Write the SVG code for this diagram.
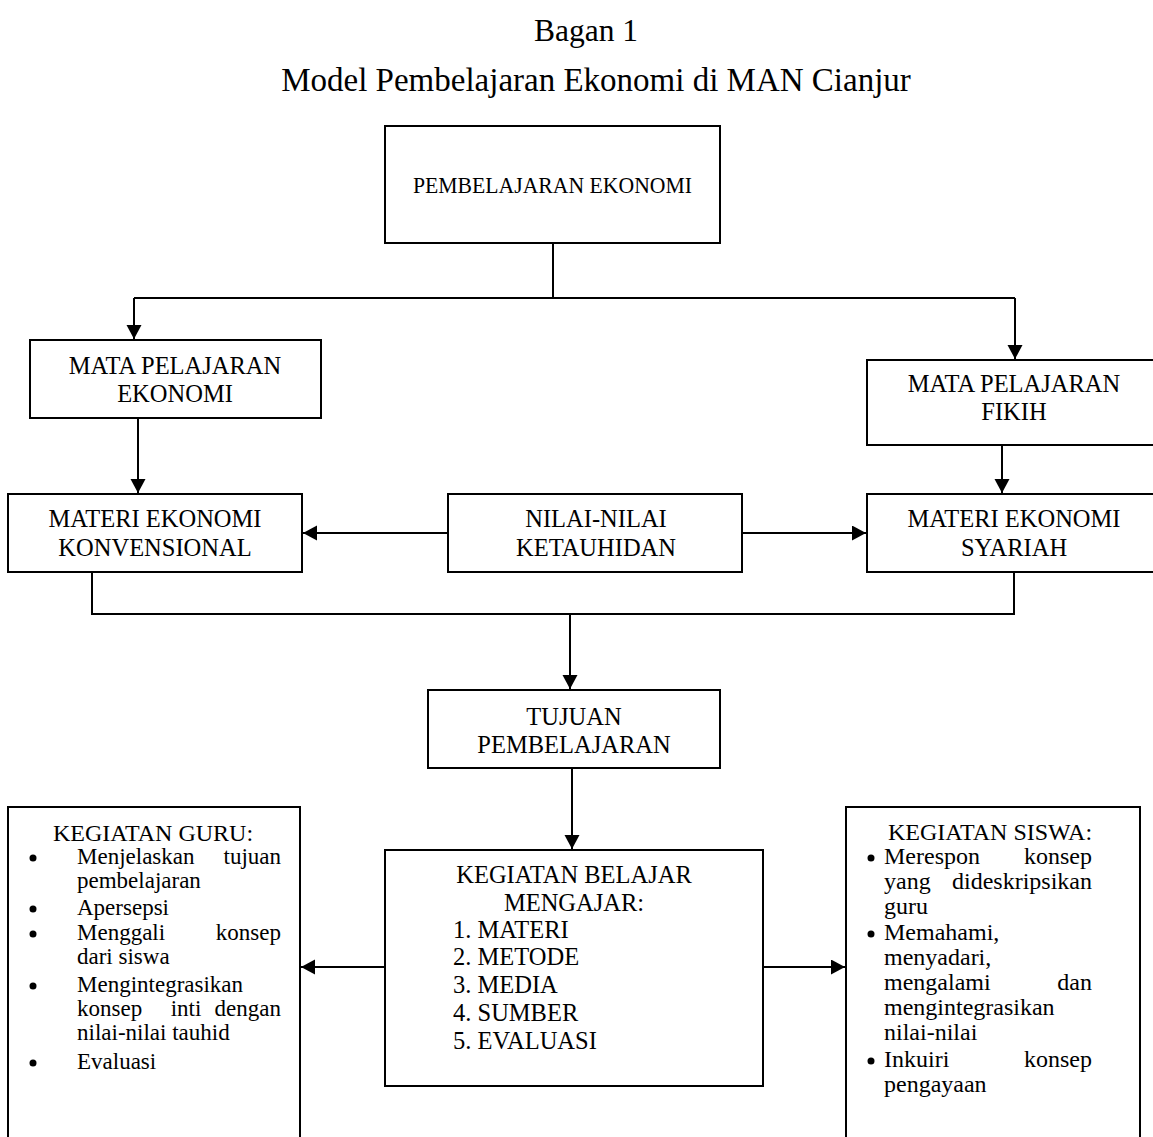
<svg xmlns="http://www.w3.org/2000/svg" width="1153" height="1137" viewBox="0 0 1153 1137">
<style>
text{font-family:"Liberation Serif","Times New Roman",serif;fill:#000;font-size:24.5px}
.c{text-anchor:middle}
.e{text-anchor:end}
.g{font-size:23px}
.s{font-size:24px}
.box{fill:#fff;stroke:#000;stroke-width:2}
.ln{fill:none;stroke:#000;stroke-width:2}
</style>
<defs>
<marker id="ah" markerUnits="userSpaceOnUse" markerWidth="16" markerHeight="16" refX="14" refY="7.5" orient="auto">
<path d="M0,0 L14,7.5 L0,15 z" fill="#000"/>
</marker>
</defs>
<rect width="1153" height="1137" fill="#fff"/>
<g id="title">
<text class="c" x="586" y="41" style="font-size:31.5px">Bagan 1</text>
<text class="c" x="596" y="91" style="font-size:33px">Model Pembelajaran Ekonomi di MAN Cianjur</text>
</g>
<g id="connectors">
<polyline class="ln" points="553,243 553,298"/>
<polyline class="ln" points="134,298 1015,298"/>
<line class="ln" x1="134" y1="298" x2="134" y2="339" marker-end="url(#ah)"/>
<line class="ln" x1="1015" y1="298" x2="1015" y2="359" marker-end="url(#ah)"/>
<line class="ln" x1="138" y1="419" x2="138" y2="493" marker-end="url(#ah)"/>
<line class="ln" x1="1002" y1="446" x2="1002" y2="493" marker-end="url(#ah)"/>
<line class="ln" x1="448" y1="533" x2="303" y2="533" marker-end="url(#ah)"/>
<line class="ln" x1="742" y1="533" x2="866" y2="533" marker-end="url(#ah)"/>
<polyline class="ln" points="92,573 92,614 1014,614 1014,573"/>
<line class="ln" x1="570" y1="614" x2="570" y2="689" marker-end="url(#ah)"/>
<line class="ln" x1="572" y1="769" x2="572" y2="849" marker-end="url(#ah)"/>
<line class="ln" x1="385" y1="967" x2="301" y2="967" marker-end="url(#ah)"/>
<line class="ln" x1="763" y1="967" x2="845" y2="967" marker-end="url(#ah)"/>
</g>
<g id="n-pembelajaran">
<rect class="box" x="385" y="126" width="335" height="117"/>
<text x="413" y="193" style="font-size:23.5px" textLength="279" lengthAdjust="spacingAndGlyphs">PEMBELAJARAN EKONOMI</text>
</g>
<g id="n-mapel-ekonomi">
<rect class="box" x="30" y="340" width="291" height="78"/>
<text class="c" x="175" y="374">MATA PELAJARAN</text>
<text class="c" x="175" y="402">EKONOMI</text>
</g>
<g id="n-mapel-fikih">
<rect class="box" x="867" y="360" width="300" height="85"/>
<text class="c" x="1014" y="392">MATA PELAJARAN</text>
<text class="c" x="1014" y="420">FIKIH</text>
</g>
<g id="n-konvensional">
<rect class="box" x="8" y="494" width="294" height="78"/>
<text class="c" x="155" y="527">MATERI EKONOMI</text>
<text class="c" x="155" y="556">KONVENSIONAL</text>
</g>
<g id="n-nilai">
<rect class="box" x="448" y="494" width="294" height="78"/>
<text class="c" x="596" y="527">NILAI-NILAI</text>
<text class="c" x="596" y="556">KETAUHIDAN</text>
</g>
<g id="n-syariah">
<rect class="box" x="867" y="494" width="300" height="78"/>
<text class="c" x="1014" y="527">MATERI EKONOMI</text>
<text class="c" x="1014" y="556">SYARIAH</text>
</g>
<g id="n-tujuan">
<rect class="box" x="428" y="690" width="292" height="78"/>
<text class="c" x="574" y="725">TUJUAN</text>
<text class="c" x="574" y="753">PEMBELAJARAN</text>
</g>
<g id="n-kbm">
<rect class="box" x="385" y="850" width="378" height="236"/>
<text class="c" x="574" y="883">KEGIATAN BELAJAR</text>
<text class="c" x="574" y="911">MENGAJAR:</text>
<text x="453" y="938">1. MATERI</text>
<text x="453" y="965">2. METODE</text>
<text x="453" y="993">3. MEDIA</text>
<text x="453" y="1021">4. SUMBER</text>
<text x="453" y="1049">5. EVALUASI</text>
</g>
<g id="n-guru">
<polyline class="ln" points="8,1140 8,807 300,807 300,1140"/>
<text class="s" x="53" y="841">KEGIATAN GURU:</text>
<circle cx="33" cy="858" r="3.5"/>
<text class="g" x="77" y="864">Menjelaskan</text><text class="g e" x="281" y="864">tujuan</text>
<text class="g" x="77" y="888">pembelajaran</text>
<circle cx="33" cy="909" r="3.5"/>
<text class="g" x="77" y="915">Apersepsi</text>
<circle cx="33" cy="934" r="3.5"/>
<text class="g" x="77" y="940">Menggali</text><text class="g e" x="281" y="940">konsep</text>
<text class="g" x="77" y="964">dari siswa</text>
<circle cx="33" cy="986" r="3.5"/>
<text class="g" x="77" y="992">Mengintegrasikan</text>
<text class="g" x="77" y="1016">konsep</text><text class="g c" x="186" y="1016">inti</text><text class="g e" x="281" y="1016">dengan</text>
<text class="g" x="77" y="1040">nilai-nilai tauhid</text>
<circle cx="33" cy="1063" r="3.5"/>
<text class="g" x="77" y="1069">Evaluasi</text>
</g>
<g id="n-siswa">
<polyline class="ln" points="846,1140 846,807 1140,807 1140,1140"/>
<text class="s" x="888" y="840">KEGIATAN SISWA:</text>
<circle cx="871" cy="858" r="3.5"/>
<text class="s" x="884" y="864">Merespon</text><text class="s e" x="1092" y="864">konsep</text>
<text class="s" x="884" y="889">yang</text><text class="s e" x="1092" y="889">dideskripsikan</text>
<text class="s" x="884" y="914">guru</text>
<circle cx="871" cy="934" r="3.5"/>
<text class="s" x="884" y="940">Memahami,</text>
<text class="s" x="884" y="965">menyadari,</text>
<text class="s" x="884" y="990">mengalami</text><text class="s e" x="1092" y="990">dan</text>
<text class="s" x="884" y="1015">mengintegrasikan</text>
<text class="s" x="884" y="1040">nilai-nilai</text>
<circle cx="871" cy="1061" r="3.5"/>
<text class="s" x="884" y="1067">Inkuiri</text><text class="s e" x="1092" y="1067">konsep</text>
<text class="s" x="884" y="1092">pengayaan</text>
</g>
</svg>
